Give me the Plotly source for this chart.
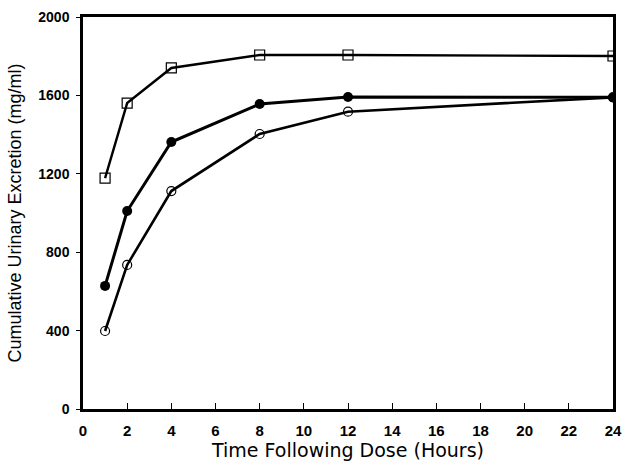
import plotly.graph_objects as go

hours = [1, 2, 4, 8, 12, 24]
squares = [1178, 1561, 1740, 1806, 1806, 1801]
filled = [628, 1010, 1362, 1556, 1592, 1590]
open_circ = [398, 735, 1112, 1403, 1517, 1590]

x_ticks = list(range(0, 25, 2))
y_ticks = [0, 400, 800, 1200, 1600, 2000]

LS = "Liberation Sans, Arial, sans-serif"

fig = go.Figure()
fig.add_trace(go.Scatter(x=hours, y=open_circ, mode="lines+markers",
                         line=dict(color="black", width=2.6),
                         marker=dict(symbol="circle-open", size=9, color="black", line=dict(width=1.2))))
fig.add_trace(go.Scatter(x=hours, y=filled, mode="lines+markers",
                         line=dict(color="black", width=3),
                         marker=dict(symbol="circle", size=10, color="black")))
fig.add_trace(go.Scatter(x=hours, y=squares, mode="lines+markers",
                         line=dict(color="black", width=2.4),
                         marker=dict(symbol="square-open", size=10, color="black", line=dict(width=1.2))))

fig.update_layout(
    width=623, height=462,
    margin=dict(l=83, r=10, t=17, b=53),
    paper_bgcolor="white", plot_bgcolor="white",
    showlegend=False,
    font=dict(family=LS, color="black"),
)
fig.update_xaxes(range=[0, 24], tickvals=x_ticks, ticktext=[str(v) for v in x_ticks],
                 ticks="inside", ticklen=6, tickwidth=1, tickcolor="black",
                 showline=True, linecolor="black", linewidth=2.5, mirror=True,
                 showgrid=False, zeroline=False, automargin=False,
                 ticklabelstandoff=6, ticklabeloverflow="allow",
                 tickfont=dict(size=15, family=LS, color="black", weight="bold"),
                 title=dict(text="Time Following Dose (Hours)", standoff=2,
                            font=dict(size=19, family="DejaVu Sans, sans-serif", color="black")))
fig.update_yaxes(range=[0, 2000], tickvals=y_ticks, ticktext=[str(v) for v in y_ticks],
                 ticks="outside", ticklen=4, tickwidth=1, tickcolor="black",
                 showline=True, linecolor="black", linewidth=2.5, mirror=True,
                 showgrid=False, zeroline=False, automargin=False,
                 ticklabelstandoff=4,
                 tickfont=dict(size=14, family=LS, color="black", weight="bold"),
                 title=dict(text="Cumulative Urinary Excretion (mg/ml)", standoff=12,
                            font=dict(size=18, family=LS, color="black")))

fig.write_html("out.html",
               config={"displayModeBar": False},
               post_script="document.body.style.margin='0';document.body.style.overflow='hidden';")
